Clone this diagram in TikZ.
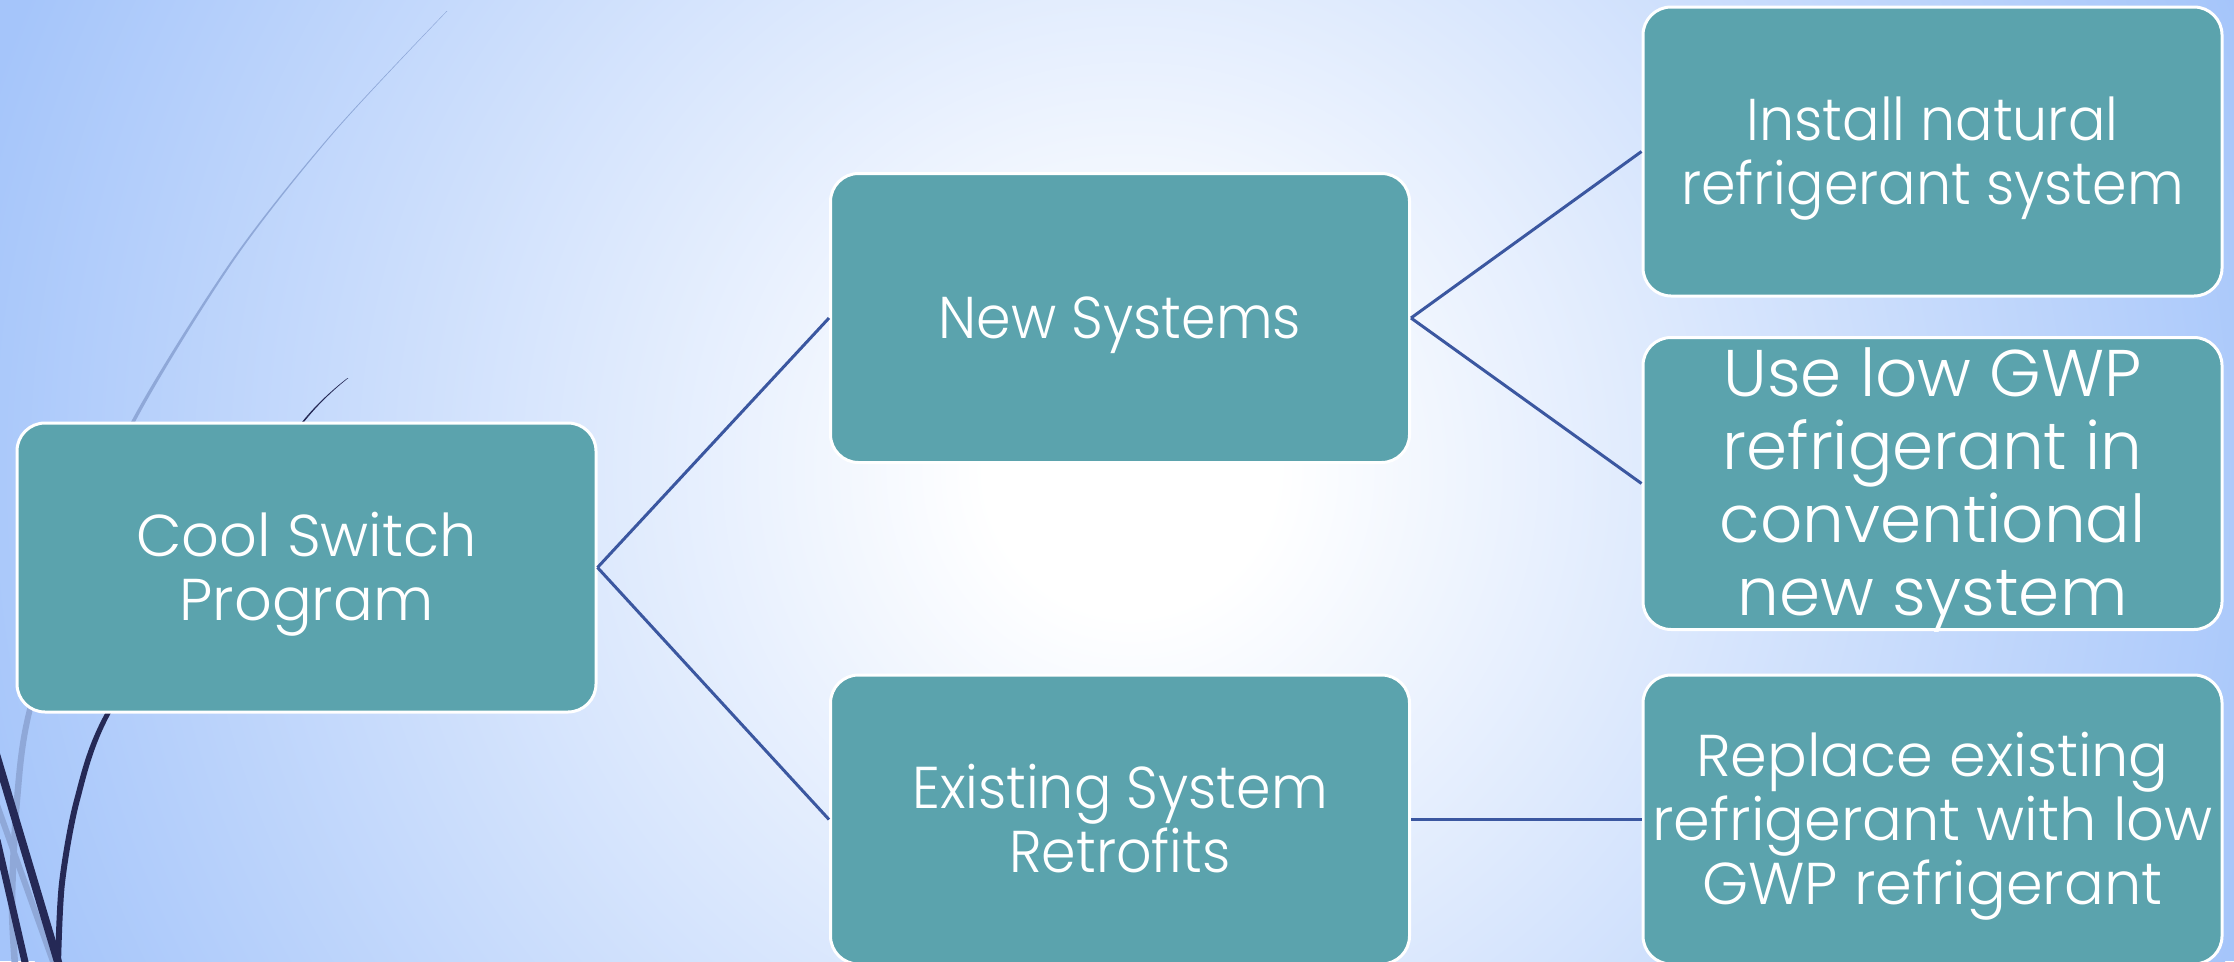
\documentclass[tikz,border=0pt]{standalone}
\usepackage{fontspec}
\newfontfamily\boxfont{Poppins Light}
\newfontfamily\boxfontn{Poppins Light}[FakeStretch=0.94]
\definecolor{boxfill}{RGB}{91,163,173}
\definecolor{connblue}{RGB}{59,87,160}
\definecolor{bgblue}{RGB}{165,197,250}
\definecolor{darkwisp}{RGB}{37,41,86}
\definecolor{lightwisp}{RGB}{143,168,216}
\pgfdeclareradialshading{bgshade}{\pgfpoint{0bp}{0bp}}{color(0bp)=(white); color(3bp)=(white); color(25bp)=(bgblue); color(50bp)=(bgblue)}
\newcommand\boxtext[1]{\raisebox{-8pt}[\height][\depth]{\begin{tabular}{@{}c@{}}#1\end{tabular}}}
\tikzset{
  box/.style={draw=white, line width=3pt, fill=boxfill, rounded corners=28pt,
    minimum width=579pt, minimum height=289pt, inner sep=0pt,
    text=white, font=\boxfont\fontsize{59}{64}\selectfont},
  narrowtext/.style={font=\boxfontn\fontsize{59}{64}\selectfont},
  bigtext/.style={font=\boxfont\fontsize{66}{73}\selectfont},
  link/.style={draw=connblue, line width=3pt}
}
\begin{document}
\begin{tikzpicture}[x=1pt,y=-1pt]
\useasboundingbox (0,0) rectangle (2234,961);
\clip (0,0) rectangle (2234,961);
\fill[bgblue] (0,0) rectangle (2234,961);
\shade[shading=bgshade] (1130,470) circle (1200pt);
% decorative wisps
\fill[lightwisp] plot[smooth] coordinates {(447.3,11) (333.6,133) (234.2,260) (135,422) (77.5,560) (32,713) (20.2,800) (15.3,900) (18.3,965)}
  -- plot[smooth] coordinates {(11.7,965) (8.7,900) (13.8,800) (26,713) (72.5,560) (131,422) (231.8,260) (332.4,133) (446.7,11)} -- cycle;
\draw[lightwisp, line width=6pt] (-4,802) -- (56,970);
\fill[darkwisp] plot[smooth] coordinates {(348.4,378) (304,422) (207,560) (109.8,715) (80,800) (65,883) (61,965)}
  -- plot[smooth] coordinates {(55,965) (59,883) (74,800) (104.2,715) (203,560) (302,422) (347.6,378)} -- cycle;
\draw[darkwisp, line width=8pt] (-4,754) -- (61,972);
\draw[darkwisp, line width=7pt] (-3,840) -- (28,975);
% boxes
\node[box] (root) at (306.5,567.5) {\boxtext{Cool Switch\\Program}};
\node[box, narrowtext] (new) at (1120,318) {\boxtext{New Systems}};
\node[box, narrowtext] (exist) at (1120,819.5) {\boxtext{Existing System\\Retrofits}};
\node[box, narrowtext] (inst) at (1932.5,151.5) {\boxtext{Install natural\\refrigerant system}};
\node[box, bigtext] (use) at (1932.5,483.5) {\boxtext{Use low GWP\\refrigerant in\\conventional\\new system}};
\node[box] (repl) at (1932.5,819.5) {\boxtext{Replace existing\\refrigerant with low\\GWP refrigerant}};
% connectors
\draw[link] (root.east) -- (new.west);
\draw[link] (root.east) -- (exist.west);
\draw[link] (new.east) -- (inst.west);
\draw[link] (new.east) -- (use.west);
\draw[link] (exist.east) -- (repl.west);
\end{tikzpicture}
\end{document}
